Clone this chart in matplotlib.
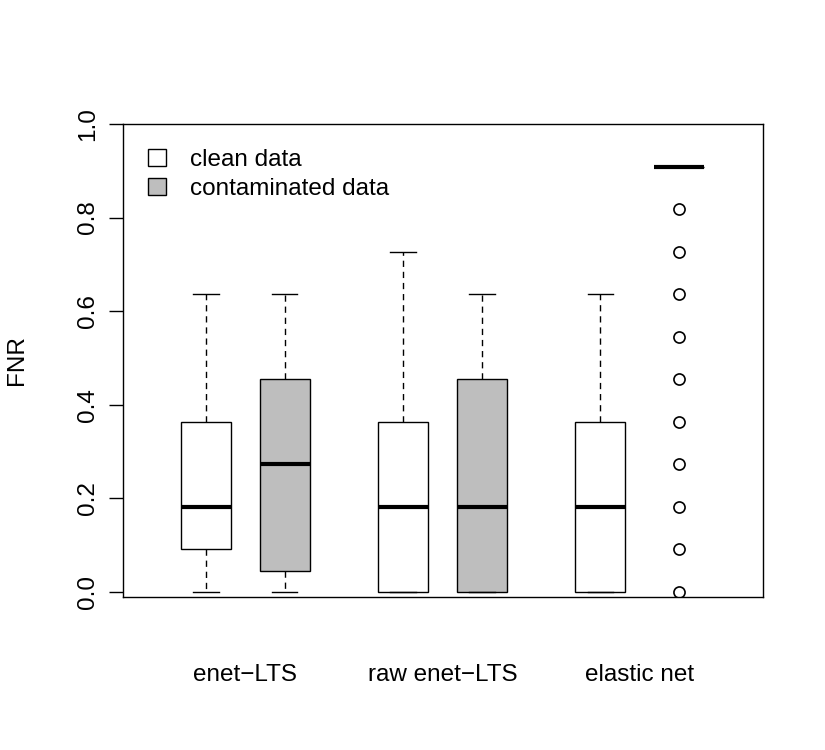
import matplotlib
matplotlib.use("Agg")
import matplotlib.pyplot as plt
from matplotlib.patches import Patch

plt.rcParams["font.family"] = ["Liberation Sans", "DejaVu Sans"]

# ── Data (FNR box statistics) ────────────────────────────────────────────────
group_labels = ["enet\u2212LTS", "raw enet\u2212LTS", "elastic net"]
box_positions = [1, 2, 3.5, 4.5, 6, 7]
box_is_contaminated = [False, True, False, True, False, True]

whislo = [0.0, 0.0, 0.0, 0.0, 0.0, 0.9091]
q1 = [0.0909, 0.0455, 0.0, 0.0, 0.0, 0.9091]
med = [0.1818, 0.2727, 0.1818, 0.1818, 0.1818, 0.9091]
q3 = [0.3636, 0.4545, 0.3636, 0.4545, 0.3636, 0.9091]
whishi = [0.6364, 0.6364, 0.7273, 0.6364, 0.6364, 0.9091]
fliers_enet_contam = [0.0, 0.0909, 0.1818, 0.2727, 0.3636, 0.4545,
                      0.5455, 0.6364, 0.7273, 0.8182]
fliers = [[], [], [], [], [], fliers_enet_contam]

CLEAN = "white"
CONTAM = "#BEBEBE"
FS = 17.5

stats = []
for i in range(len(box_positions)):
    stats.append(dict(whislo=whislo[i], q1=q1[i], med=med[i], q3=q3[i],
                      whishi=whishi[i], fliers=fliers[i]))

fig = plt.figure(figsize=(8.25, 7.5), dpi=100)
ax = fig.add_axes([123 / 825, 1 - 597 / 750, 640 / 825, 473 / 750])

bp = ax.bxp(stats, positions=box_positions, widths=0.63, capwidths=0.32,
            patch_artist=True, showfliers=True,
            boxprops=dict(linewidth=1.0, edgecolor="black"),
            whiskerprops=dict(linewidth=1.0, linestyle=(0, (4.5, 3.5)), color="black"),
            capprops=dict(linewidth=1.0, color="black"),
            medianprops=dict(linewidth=3.0, color="black", solid_capstyle="butt"),
            flierprops=dict(marker="o", markersize=8, markerfacecolor="none",
                            markeredgecolor="black", markeredgewidth=1.2))
for patch, contam in zip(bp["boxes"], box_is_contaminated):
    patch.set_facecolor(CONTAM if contam else CLEAN)

ax.set_xlim(-0.053, 8.066)
ax.set_ylim(-0.011, 1.0)

ax.set_yticks([0.0, 0.2, 0.4, 0.6, 0.8, 1.0])
ax.set_yticklabels(["0.0", "0.2", "0.4", "0.6", "0.8", "1.0"],
                   rotation=90, va="center", fontsize=FS)
ax.tick_params(axis="y", direction="out", length=10, width=1.0, pad=7)

group_centers = [1.5, 4.0, 6.5]
ax.set_xticks(group_centers)
ax.set_xticklabels(group_labels, fontsize=FS)
ax.tick_params(axis="x", length=0, pad=48)

for s in ax.spines.values():
    s.set_linewidth(1.0)

ax.set_ylabel("FNR", fontsize=FS, va="center")
ax.yaxis.set_label_coords(-0.166, 0.5)

handles = [Patch(facecolor=CLEAN, edgecolor="black", linewidth=1.0, label="clean data"),
           Patch(facecolor=CONTAM, edgecolor="black", linewidth=1.0, label="contaminated data")]
ax.legend(handles=handles, loc="upper left", bbox_to_anchor=(0.005, 0.994),
          frameon=False, fontsize=FS, handlelength=0.74, handleheight=0.74,
          handletextpad=1.0, labelspacing=0.28)

fig.savefig("out.png", dpi=100, facecolor="white")
